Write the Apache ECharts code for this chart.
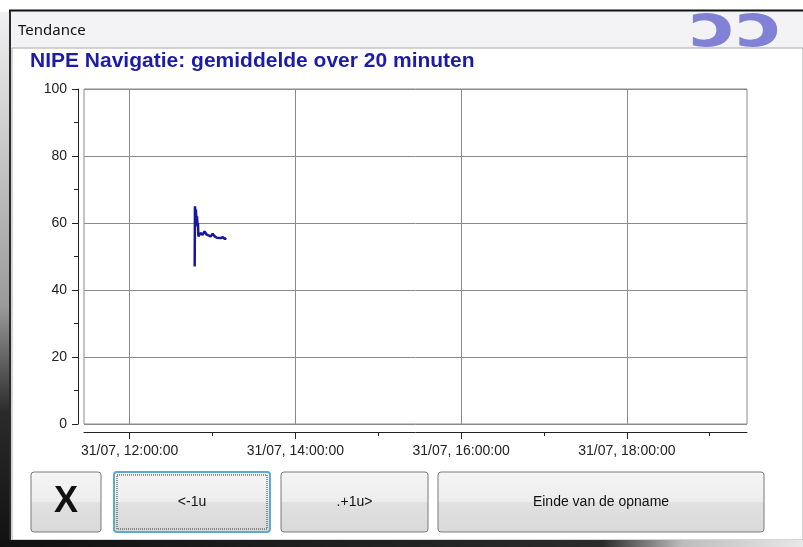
<!DOCTYPE html>
<html>
<head>
<meta charset="utf-8">
<title>Tendance</title>
<script src="https://cdn.jsdelivr.net/npm/echarts@6/dist/echarts.min.js"></script>
<style>
  html, body { margin: 0; padding: 0; background: #fff; }
  #main { width: 803px; height: 547px; }
</style>
</head>
<body>
<div id="main"></div>
<script>
// data
var chartTitle = 'NIPE Navigatie: gemiddelde over 20 minuten';
var dayPart = '31/07';
var axisStart = '11:27:00';
var axisEnd = '19:27:00';
var majorTickTimes = ['12:00:00', '14:00:00', '16:00:00', '18:00:00'];
var minorTickTimes = ['13:00:00', '15:00:00', '17:00:00', '19:00:00'];
var sampleTimes = [
  '12:47:08', '12:47:20', '12:47:40', '12:48:00', '12:48:20', '12:48:50',
  '12:49:10', '12:49:30', '12:49:50', '12:50:30', '12:51:20', '12:52:50',
  '12:54:20', '12:55:50', '12:57:10', '12:58:40', '13:00:10', '13:01:40',
  '13:03:10', '13:04:30', '13:06:00', '13:07:30', '13:09:00', '13:10:00'
];
var sampleValues = [
  47, 65, 63, 64, 61, 62,
  59, 60, 56, 55.5, 57, 56.5,
  57.5, 56.5, 57, 56, 56.8, 56,
  55.6, 56, 55.5, 55.8, 55.2, 55.5
];
var buttonLabels = ['X', '<-1u', '.+1u>', 'Einde van de opname'];

// time of day as seconds since midnight
function toSec(hms) {
  var p = hms.split(':');
  return (+p[0]) * 3600 + (+p[1]) * 60 + (+p[2]);
}
function pad(n) { return (n < 10 ? '0' : '') + n; }
function fmt(v) {
  v = Math.round(v);
  return dayPart + ', ' + pad(Math.floor(v / 3600)) + ':' + pad(Math.floor(v / 60) % 60) + ':' + pad(v % 60);
}

var seriesData = sampleTimes.map(function (t, i) { return [toSec(t), sampleValues[i]]; });
var labelFont = 'Liberation Sans, Arial, sans-serif';

function button(x, w, label, opts) {
  opts = opts || {};
  var children = [{
    type: 'rect',
    shape: { x: x, y: 472, width: w, height: 60, r: 3 },
    style: {
      fill: new echarts.graphic.LinearGradient(0, 0, 0, 1, [
        { offset: 0, color: '#f5f5f5' },
        { offset: 0.5, color: '#ededed' },
        { offset: 0.5, color: '#e1e1e1' },
        { offset: 1, color: '#d9d9d9' }
      ]),
      stroke: opts.focus ? '#5aaad4' : '#7a7a7a',
      lineWidth: opts.focus ? 2 : 1
    }
  }];
  if (opts.focus) {
    children.push({
      type: 'rect',
      shape: { x: x + 3, y: 475, width: w - 6, height: 54 },
      style: { fill: null, stroke: '#333', lineWidth: 1, lineDash: [1, 1] }
    });
  }
  children.push({
    type: 'text',
    x: x + w / 2, y: 502,
    style: {
      text: label, textAlign: 'center', textVerticalAlign: 'middle',
      font: opts.big ? 'bold 36px ' + labelFont : '14px ' + labelFont,
      fill: '#111'
    }
  });
  return { type: 'group', z: 10, children: children };
}

var myChart = echarts.init(document.getElementById('main'));

myChart.setOption({
  animation: false,
  title: {
    text: chartTitle,
    left: 25,
    top: 46,
    textStyle: { color: '#1c1ca6', fontFamily: labelFont, fontSize: 21, fontWeight: 'bold' }
  },
  graphic: [
    // window chrome
    { type: 'rect', z: -20, shape: { x: 0, y: 0, width: 803, height: 547 }, style: { fill: '#ffffff' } },
    { type: 'rect', z: -19, shape: { x: 0, y: 12, width: 9, height: 535 },
      style: { fill: new echarts.graphic.LinearGradient(0, 0, 0, 1, [
        { offset: 0, color: '#f0f0f0' }, { offset: 0.55, color: '#9a9a9a' },
        { offset: 0.75, color: '#2a2a2a' }, { offset: 1, color: '#111' }]) } },
    { type: 'rect', z: -19, shape: { x: 9, y: 10, width: 794, height: 39 }, style: { fill: '#f3f3f5' } },
    { type: 'text', z: -18, x: 736, y: 31, scaleX: 1.35,
      style: { text: 'ɔɔ', font: 'bold 58px "DejaVu Sans", sans-serif', fill: 'rgba(80,80,200,0.7)',
        textAlign: 'center', textVerticalAlign: 'middle', shadowBlur: 10, shadowColor: 'rgba(80,80,210,0.8)' } },
    { type: 'line', z: -17, shape: { x1: 9, y1: 10.5, x2: 803, y2: 10.5 }, style: { stroke: '#111', lineWidth: 2 } },
    { type: 'line', z: -17, shape: { x1: 10, y1: 11, x2: 10, y2: 542 }, style: { stroke: '#2a2a2a', lineWidth: 2 } },
    { type: 'rect', z: -17, shape: { x: 12, y: 48, width: 791, height: 492 }, style: { fill: '#ffffff', stroke: '#a8a8a8', lineWidth: 1 } },
    { type: 'rect', z: -17, shape: { x: 0, y: 540, width: 803, height: 7 },
      style: { fill: new echarts.graphic.LinearGradient(0, 0, 1, 0, [
        { offset: 0, color: '#111' }, { offset: 0.75, color: '#2b2b2b' },
        { offset: 0.85, color: '#bdbdbd' }, { offset: 1, color: '#e8e8e8' }]) } },
    { type: 'text', z: -16, x: 18, y: 31,
      style: { text: 'Tendance', font: '15px "Noto Sans", sans-serif', fill: '#111', textVerticalAlign: 'middle' } },
    // buttons
    button(31, 70, buttonLabels[0], { big: true }),
    button(114, 156, buttonLabels[1], { focus: true }),
    button(281, 147, buttonLabels[2]),
    button(438, 326, buttonLabels[3])
  ],
  grid: {
    left: 84, right: 56, top: 89, bottom: 123,
    show: true, backgroundColor: '#fff', borderColor: '#8a8a8a', borderWidth: 1
  },
  xAxis: [{
    type: 'value',
    min: toSec(axisStart),
    max: toSec(axisEnd),
    offset: 8,
    axisLine: { show: true, onZero: false, lineStyle: { color: '#222', width: 1 } },
    axisTick: { show: true, length: 7, lineStyle: { color: '#222' }, customValues: majorTickTimes.map(toSec) },
    axisLabel: {
      customValues: majorTickTimes.map(toSec),
      formatter: fmt,
      color: '#222', fontSize: 14, fontFamily: labelFont, margin: 12
    },
    splitLine: { show: true, lineStyle: { color: '#8a8a8a', width: 1 } }
  }, {
    type: 'value',
    min: toSec(axisStart),
    max: toSec(axisEnd),
    position: 'bottom',
    offset: 8,
    axisLine: { show: false, onZero: false },
    axisTick: { show: true, length: 4, lineStyle: { color: '#222' }, customValues: minorTickTimes.map(toSec) },
    axisLabel: { show: false },
    splitLine: { show: false }
  }],
  yAxis: {
    type: 'value',
    min: 0,
    max: 100,
    interval: 20,
    offset: 6,
    axisLine: { show: true, onZero: false, lineStyle: { color: '#222', width: 1 } },
    axisTick: { show: true, length: 6, lineStyle: { color: '#222' } },
    minorTick: { show: true, splitNumber: 2, length: 4, lineStyle: { color: '#222' } },
    axisLabel: { color: '#222', fontSize: 14, fontFamily: labelFont, margin: 11 },
    splitLine: { show: true, lineStyle: { color: '#8a8a8a', width: 1 } }
  },
  series: [{
    name: 'NIPE Navigatie',
    type: 'line',
    xAxisIndex: 0,
    data: seriesData,
    showSymbol: false,
    lineStyle: { color: '#16169e', width: 2.5 },
    itemStyle: { color: '#16169e' }
  }]
});
</script>
</body>
</html>
